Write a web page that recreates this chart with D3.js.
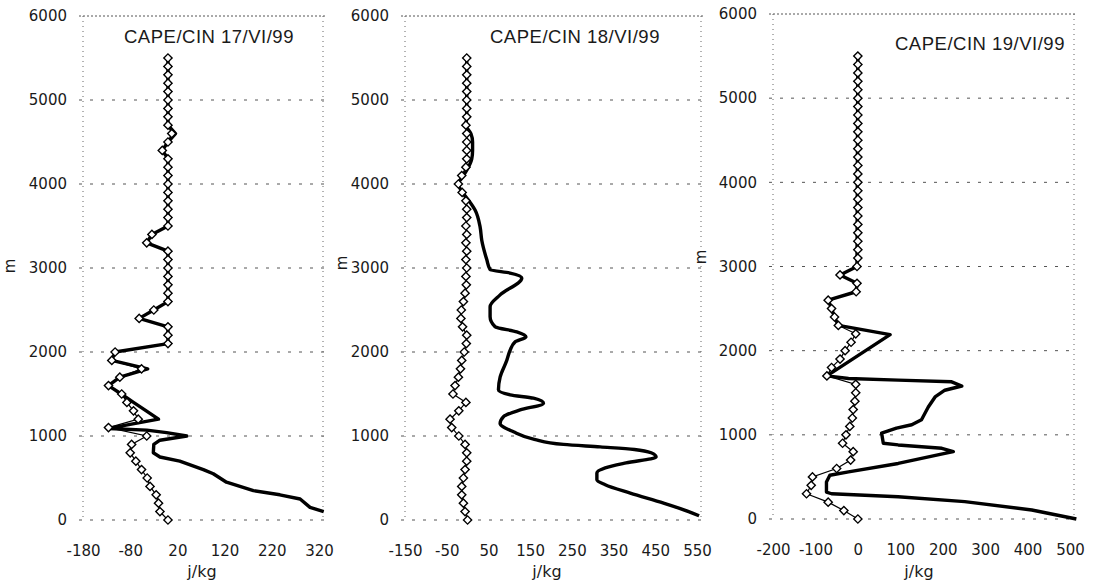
<!DOCTYPE html>
<html>
<head>
<meta charset="utf-8">
<script src="https://cdn.jsdelivr.net/npm/d3@7"></script>
<style>
  body { margin: 0; background: #fff; }
  svg text { font-family: "DejaVu Sans", Verdana, sans-serif; fill: #1a1a1a; }
  .title { font-family: "Liberation Sans", Arial, sans-serif; font-size: 18.5px; letter-spacing: 0.5px; }
</style>
</head>
<body>
<svg id="chart" width="1099" height="587"></svg>
<script>

// heights (m) of the CIN soundings, every 100 m
var heights = [0,100,200,300,400,500,600,700,800,900,
  1000,1100,1200,1300,1400,1500,1600,1700,1800,1900,
  2000,2100,2200,2300,2400,2500,2600,2700,2800,2900,
  3000,3100,3200,3300,3400,3500,3600,3700,3800,3900,
  4000,4100,4200,4300,4400,4500,4600,4700,4800,4900,
  5000,5100,5200,5300,5400,5500];

var titles = ['CAPE/CIN 17/VI/99', 'CAPE/CIN 18/VI/99', 'CAPE/CIN 19/VI/99'];
var yTicks = [0,1000,2000,3000,4000,5000,6000];
var ticks17 = [-180,-80,20,120,220,320];
var ticks18 = [-150,-50,50,150,250,350,450,550];
var ticks19 = [-200,-100,0,100,200,300,400,500];

// CIN (diamonds), j/kg
var cin17 = [0,-17,-20,-25,-38,-44,-56,-68,-80,-77,
  -45,-126,-63,-73,-87,-98,-126,-102,-56,-119,
  -112,0,0,0,-61,-30,0,0,0,0,
  0,0,0,-45,-34,0,0,0,0,0,
  0,0,0,0,-12,0,8,0,0,0,
  0,0,0,0,0,0];
var cin18 = [0,-6,-10,-14,-14,-10,-6,-2,-2,-6,
  -21,-38,-42,-21,-4,-35,-30,-22,-17,-14,
  -8,-3,-2,-12,-16,-15,-10,-6,-3,-4,
  -2,-4,-2,-4,-2,-4,-2,-2,-4,-13,
  -22,-14,-4,-2,-2,-2,-2,-4,-2,-2,
  -2,-2,-2,-2,-2,-2];
var cin19 = [0,-33,-70,-121,-110,-107,-50,-17,-11,-36,
  -28,-19,-13,-11,-7,-5,-5,-73,-62,-42,
  -30,-16,-5,-46,-55,-62,-70,-4,-2,-42,
  -2,0,0,0,0,0,0,0,0,0,
  0,0,0,0,0,0,0,0,0,0,
  0,0,0,0,0,0];

// CAPE (thick line), j/kg, with its own heights
var capeH17 = [100,150,250,300,350,450,550,600,700,750,800,900,950,1000,1040,1070,1090,
  1200,1300,1400,1500,1600,1700,1800,1900,2000,2100,2300,2400,2500,2600,
  3200,3300,3400,3500,4300,4400,4500,4600,4700,5500];
var cape17 = [330,301,280,237,181,124,96,75,25,-17,-31,-30,-17,40,-3,-45,-126,
  -20,-46,-73,-99,-126,-102,-43,-119,-112,0,0,-61,-30,0,
  0,-45,-34,0,0,-12,0,16,0,0];

var capeH18 = [50,100,200,320,420,480,560,620,680,750,800,840,870,900,960,1050,1150,
  1230,1310,1390,1450,1490,1550,1700,1900,2020,2120,2180,2240,2300,2420,2540,2680,
  2880,2940,2980,3100,3330,3490,3690,3810,3900,4000,4100,4200,4300,4400,4500,4600,
  4700,4800,5500];
var cape18 = [555,530,470,390,330,310,310,330,380,452,440,400,318,230,160,110,78,
  86,126,182,158,102,74,78,94,102,114,140,118,66,54,54,78,
  130,102,54,46,34,30,18,2,-12,-22,-10,2,10,12,12,8,
  -4,-2,-2];

var capeH19 = [0,107,206,265,300,320,440,520,560,660,780,800,840,880,900,1020,1080,
  1120,1180,1330,1450,1530,1580,1630,1650,1670,1700,2190,2300,2400,2500,2600,2700,
  2800,2900,3000,5500];
var cape19 = [515,410,252,95,-62,-74,-74,-66,-22,95,205,225,198,95,60,56,91,
  127,150,166,182,205,245,221,95,-22,-73,76,-46,-55,-62,-70,-4,
  -2,-42,-2,0];

var panels = [
  {title: titles[0], cin: cin17, capeH: capeH17, cape: cape17, ticks: ticks17,
   x0: 83, x1: 319, y0: 520, y1: 16, titleX: 124, titleY: 43, labelX: 202, mX: 15, mY: 266, curve: d3.curveLinear},
  {title: titles[1], cin: cin18, capeH: capeH18, cape: cape18, ticks: ticks18,
   x0: 405, x1: 697, y0: 520, y1: 16, titleX: 490, titleY: 43, labelX: 547, mX: 347, mY: 263, curve: d3.curveMonotoneY},
  {title: titles[2], cin: cin19, capeH: capeH19, cape: cape19, ticks: ticks19,
   x0: 773, x1: 1070, y0: 519, y1: 14, titleX: 895, titleY: 50, labelX: 919, mX: 706, mY: 257, curve: d3.curveLinear}
];

var svg = d3.select('#chart');

panels.forEach(function(p) {
  var t = p.ticks;
  var x = d3.scaleLinear().domain([t[0], t[t.length - 1]]).range([p.x0, p.x1]);
  var y = d3.scaleLinear().domain([0, 6000]).range([p.y0, p.y1]);
  var g = svg.append('g');

  // dotted grid and frame
  g.selectAll('line.grid')
    .data(yTicks)
    .enter()
    .append('line')
    .attr('x1', p.x0 - 4)
    .attr('x2', p.x1 + 6)
    .attr('y1', function(d){ return y(d); })
    .attr('y2', function(d){ return y(d); })
    .attr('stroke', '#555')
    .attr('stroke-width', 1)
    .attr('stroke-dasharray', function(d){ return d === 6000 ? '2,2' : '3,8'; });

  [p.x0, p.x1 + 4].forEach(function(xx) {
    g.append('line')
      .attr('x1', xx).attr('x2', xx)
      .attr('y1', y(6000)).attr('y2', y(0))
      .attr('stroke', '#666')
      .attr('stroke-dasharray', '1,4');
  });

  // axes (plain hyphen minus, as in the original)
  var fmt = function(d){ return String(d); };

  var yAxis = g.append('g')
    .attr('transform', 'translate(' + p.x0 + ',0)')
    .call(d3.axisLeft(y).tickValues(yTicks).tickSize(0).tickPadding(16).tickFormat(fmt));
  yAxis.select('.domain').remove();
  yAxis.selectAll('text').style('font-size', '15px').style('font-family', '"DejaVu Sans", Verdana, sans-serif').attr('fill', '#1a1a1a');

  var xAxis = g.append('g')
    .attr('transform', 'translate(0,' + p.y0 + ')')
    .call(d3.axisBottom(x).tickValues(t).tickSize(0).tickPadding(25).tickFormat(fmt));
  xAxis.select('.domain').remove();
  xAxis.selectAll('text').style('font-size', '15px').style('font-family', '"DejaVu Sans", Verdana, sans-serif').attr('fill', '#1a1a1a');

  // CAPE thick line
  var capeLine = d3.line()
    .x(function(d){ return x(d[1]); })
    .y(function(d){ return y(d[0]); })
    .curve(p.curve);
  g.append('path')
    .datum(d3.zip(p.capeH, p.cape))
    .attr('d', capeLine)
    .attr('fill', 'none')
    .attr('stroke', '#000')
    .attr('stroke-width', 3.4)
    .attr('stroke-linejoin', 'round');

  // CIN thin line with open diamonds
  var cinData = d3.zip(heights, p.cin);
  var cinLine = d3.line()
    .x(function(d){ return x(d[1]); })
    .y(function(d){ return y(d[0]); });
  g.append('path')
    .datum(cinData)
    .attr('d', cinLine)
    .attr('fill', 'none')
    .attr('stroke', '#000')
    .attr('stroke-width', 1.2);

  g.selectAll('path.dia')
    .data(cinData)
    .enter()
    .append('path')
    .attr('class', 'dia')
    .attr('d', d3.symbol(d3.symbolSquare, 34))
    .attr('transform', function(d){ return 'translate(' + x(d[1]) + ',' + y(d[0]) + ') rotate(45)'; })
    .attr('fill', '#fff')
    .attr('stroke', '#000')
    .attr('stroke-width', 1.4);

  // labels
  g.append('text')
    .attr('class', 'title')
    .attr('x', p.titleX)
    .attr('y', p.titleY)
    .text(p.title);

  g.append('text')
    .attr('x', p.labelX)
    .attr('y', 577)
    .attr('text-anchor', 'middle')
    .style('font-size', '16px')
    .text('j/kg');

  g.append('text')
    .attr('transform', 'translate(' + p.mX + ',' + p.mY + ') rotate(-90)')
    .attr('text-anchor', 'middle')
    .style('font-size', '15px')
    .text('m');
});
</script>
</body>
</html>
